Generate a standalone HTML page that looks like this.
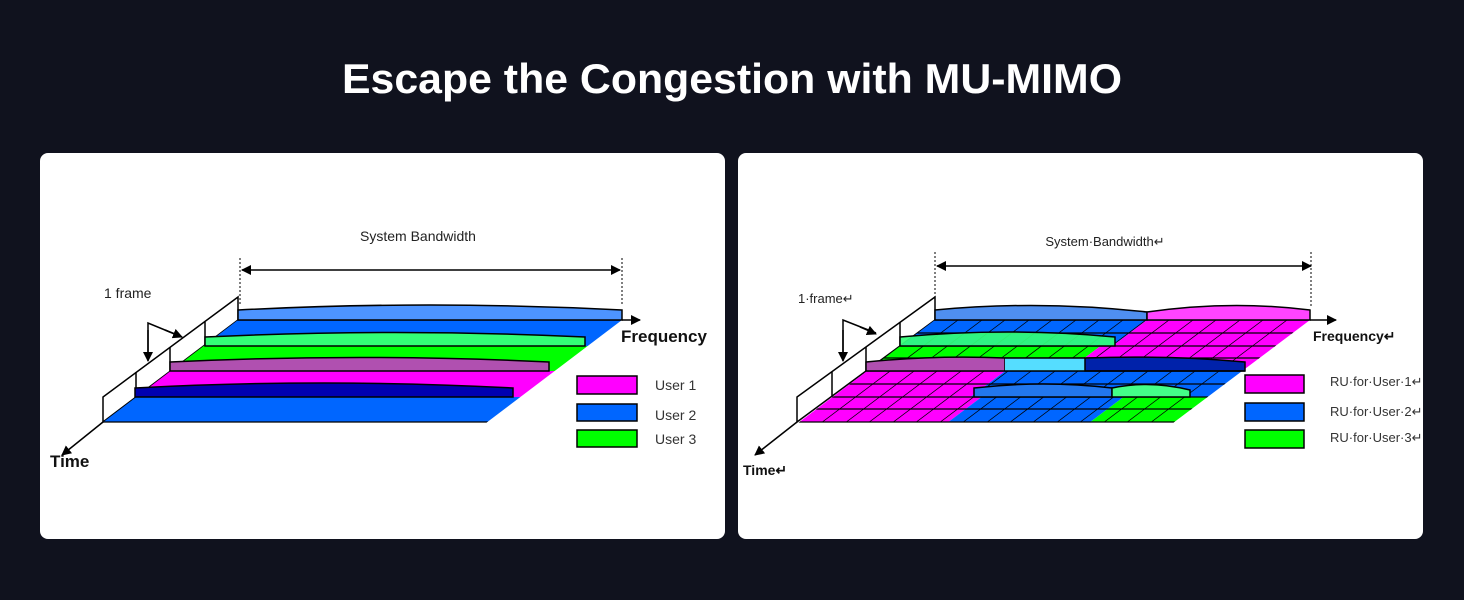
<!DOCTYPE html>
<html><head><meta charset="utf-8"><style>
html,body{margin:0;padding:0;background:#10121e;width:1464px;height:600px;overflow:hidden}
svg{display:block}
text{font-family:"Liberation Sans",Arial,sans-serif}
</style></head><body>
<svg width="1464" height="600" viewBox="0 0 1464 600" xmlns="http://www.w3.org/2000/svg">
<defs>
<marker id="ah" markerWidth="10" markerHeight="10" refX="9" refY="5" orient="auto" markerUnits="userSpaceOnUse"><path d="M0,0 L10,5 L0,10 Z" fill="#000"/></marker>
<marker id="ahs" markerWidth="10" markerHeight="10" refX="1" refY="5" orient="auto" markerUnits="userSpaceOnUse"><path d="M10,0 L0,5 L10,10 Z" fill="#000"/></marker>
</defs>
<rect width="1464" height="600" fill="#10121e"/>
<text x="732" y="93" text-anchor="middle" font-size="42" font-weight="bold" fill="#fff" textLength="780" lengthAdjust="spacingAndGlyphs">Escape the Congestion with MU-MIMO</text>
<rect x="40" y="153" width="685" height="386" rx="8" fill="#fff"/>
<rect x="738" y="153" width="685" height="386" rx="8" fill="#fff"/>

<!-- LEFT -->
<g stroke="#000" stroke-width="1.5">
<polygon points="238,297 238,320 103,422 103,397" fill="#fff"/>
<line x1="205" y1="322" x2="205" y2="346"/><line x1="170" y1="347" x2="170" y2="371"/><line x1="136" y1="372" x2="136" y2="397"/>
</g>
<g transform="matrix(1,0,-1.32,1,422.4,0)" stroke="#000" stroke-width="1.2">
<rect x="238" y="320" width="384" height="26" fill="#0066ff" stroke="none"/>
<rect x="238" y="346" width="384" height="25" fill="#00ff00" stroke="none"/>
<rect x="238" y="371" width="384" height="26" fill="#ff00ff" stroke="none"/>
<rect x="238" y="397" width="384" height="25" fill="#0066ff" stroke="none"/>
<line x1="238" y1="320" x2="622" y2="320"/><line x1="238" y1="422" x2="622" y2="422"/>
</g>
<g stroke="#000" stroke-width="1.5">
<path d="M238,320 L238,310 Q430,300 622,310 L622,320 Z" fill="#4d94ff"/>
<path d="M205,346 L205,337 Q395,328 585,337 L585,346 Z" fill="#33ff77"/>
<path d="M170,371 L170,362 Q360,353 549,362 L549,371 Z" fill="#b050b0"/>
<path d="M135,397 L135,388 Q324,378 513,388 L513,397 Z" fill="#0000b0"/>
<line x1="103" y1="422" x2="62" y2="455" marker-end="url(#ah)"/>
<line x1="622" y1="320" x2="640" y2="320" marker-end="url(#ah)"/>
<line x1="242" y1="270" x2="620" y2="270" marker-end="url(#ah)" marker-start="url(#ahs)"/>
<polyline points="148,360 148,323 182,337" fill="none"/>
<line x1="148" y1="330" x2="148" y2="361" marker-end="url(#ah)"/>
<line x1="165" y1="330" x2="182" y2="337" marker-end="url(#ah)"/>
</g>
<g stroke="#000" stroke-width="1" stroke-dasharray="2,2"><line x1="240" y1="258" x2="240" y2="306"/><line x1="622" y1="258" x2="622" y2="306"/></g>
<text x="418" y="241" font-size="14" text-anchor="middle" fill="#222">System Bandwidth</text>
<text x="104" y="298" font-size="14" fill="#222">1 frame</text>
<text x="621" y="342" font-size="17" font-weight="bold" fill="#111">Frequency</text>
<text x="50" y="467" font-size="17" font-weight="bold" fill="#111">Time</text>
<g stroke="#000" stroke-width="1.5">
<rect x="577" y="376" width="60" height="18" fill="#ff00ff"/>
<rect x="577" y="404" width="60" height="17" fill="#0066ff"/>
<rect x="577" y="430" width="60" height="17" fill="#00ff00"/>
</g>
<g font-size="14" fill="#333"><text x="655" y="390">User 1</text><text x="655" y="420">User 2</text><text x="655" y="444">User 3</text></g>

<!-- RIGHT -->
<g stroke="#000" stroke-width="1.5">
<polygon points="935,297 935,320 797,422 797,397" fill="#fff"/>
<line x1="900" y1="322" x2="900" y2="346"/><line x1="866" y1="347" x2="866" y2="371"/><line x1="832" y1="372" x2="832" y2="397"/>
</g>
<g transform="matrix(1,0,-1.33,1,425.6,0)" stroke="#000" stroke-width="1.2">
<rect x="935" y="320" width="212" height="26" fill="#0066ff" stroke="none"/>
<rect x="1147" y="320" width="163" height="26" fill="#ff00ff" stroke="none"/>
<rect x="935" y="346" width="200" height="25" fill="#00ff00" stroke="none"/>
<rect x="1135" y="346" width="175" height="25" fill="#ff00ff" stroke="none"/>
<rect x="935" y="371" width="138" height="26" fill="#ff00ff" stroke="none"/>
<rect x="1073" y="371" width="237" height="26" fill="#0066ff" stroke="none"/>
<rect x="935" y="397" width="149" height="25" fill="#ff00ff" stroke="none"/>
<rect x="1084" y="397" width="142" height="25" fill="#0066ff" stroke="none"/>
<rect x="1226" y="397" width="84" height="25" fill="#00ff00" stroke="none"/>
<line x1="935" y1="320" x2="1310" y2="320"/><line x1="935" y1="333" x2="1310" y2="333"/>
<line x1="935" y1="346" x2="1310" y2="346"/><line x1="935" y1="358" x2="1310" y2="358"/>
<line x1="935" y1="371" x2="1310" y2="371"/><line x1="935" y1="384" x2="1310" y2="384"/>
<line x1="935" y1="397" x2="1310" y2="397"/><line x1="935" y1="409" x2="1310" y2="409"/>
<line x1="935" y1="422" x2="1310" y2="422"/>
<line x1="958" y1="320" x2="958" y2="422"/><line x1="982" y1="320" x2="982" y2="422"/><line x1="1005" y1="320" x2="1005" y2="422"/><line x1="1029" y1="320" x2="1029" y2="422"/><line x1="1052" y1="320" x2="1052" y2="422"/><line x1="1076" y1="320" x2="1076" y2="422"/><line x1="1099" y1="320" x2="1099" y2="422"/><line x1="1123" y1="320" x2="1123" y2="422"/><line x1="1146" y1="320" x2="1146" y2="422"/><line x1="1169" y1="320" x2="1169" y2="422"/><line x1="1193" y1="320" x2="1193" y2="422"/><line x1="1216" y1="320" x2="1216" y2="422"/><line x1="1240" y1="320" x2="1240" y2="422"/><line x1="1263" y1="320" x2="1263" y2="422"/><line x1="1287" y1="320" x2="1287" y2="422"/>
</g>
<g stroke="#000" stroke-width="1.5">
<path d="M935,320 L935,310 Q1040,300 1147,312 L1147,320 Z" fill="#4f8ff0"/>
<path d="M1147,320 L1147,312 Q1230,300 1310,310 L1310,320 Z" fill="#ff44ff"/>
<path d="M900,346 L900,337 Q1008,327 1115,337 L1115,346 Z" fill="#33ff77" fill-opacity="0.92"/>
<path d="M866,371 L866,362 Q935,355 1005,358 L1005,371 Z" fill="#b04fb0"/>
<path d="M1005,371 L1005,358 L1085,358 L1085,371 Z" fill="#55ddff" stroke="none"/>
<path d="M1085,358 Q1170,355 1245,362 L1245,371 L1085,371 Z" fill="#0022aa"/>
<line x1="1005" y1="358" x2="1085" y2="358"/><line x1="1005" y1="371" x2="1245" y2="371"/>
<path d="M974,397 L974,388 Q1043,380 1112,388 L1112,397 Z" fill="#2277ee"/>
<path d="M1112,397 L1112,388 Q1150,380 1190,390 L1190,397 Z" fill="#44ff88"/>
<line x1="797" y1="422" x2="755" y2="455" marker-end="url(#ah)"/>
<line x1="1310" y1="320" x2="1336" y2="320" marker-end="url(#ah)"/>
<line x1="937" y1="266" x2="1311" y2="266" marker-end="url(#ah)" marker-start="url(#ahs)"/>
<polyline points="843,360 843,320 876,333" fill="none"/>
<line x1="843" y1="330" x2="843" y2="361" marker-end="url(#ah)"/>
<line x1="860" y1="327" x2="876" y2="334" marker-end="url(#ah)"/>
</g>
<g stroke="#000" stroke-width="1" stroke-dasharray="2,2"><line x1="935" y1="252" x2="935" y2="306"/><line x1="1311" y1="252" x2="1311" y2="306"/></g>
<text x="1105" y="246" font-size="13" text-anchor="middle" fill="#222">System·Bandwidth↵</text>
<text x="798" y="303" font-size="13" fill="#222">1·frame↵</text>
<text x="1313" y="341" font-size="14" font-weight="bold" fill="#111">Frequency↵</text>
<text x="743" y="475" font-size="14" font-weight="bold" fill="#111">Time↵</text>
<g stroke="#000" stroke-width="1.5">
<rect x="1245" y="375" width="59" height="18" fill="#ff00ff"/>
<rect x="1245" y="403" width="59" height="18" fill="#0066ff"/>
<rect x="1245" y="430" width="59" height="18" fill="#00ff00"/>
</g>
<g font-size="13" fill="#333"><text x="1330" y="386">RU·for·User·1↵</text><text x="1330" y="416">RU·for·User·2↵</text><text x="1330" y="442">RU·for·User·3↵</text></g>
</svg>
</body></html>
